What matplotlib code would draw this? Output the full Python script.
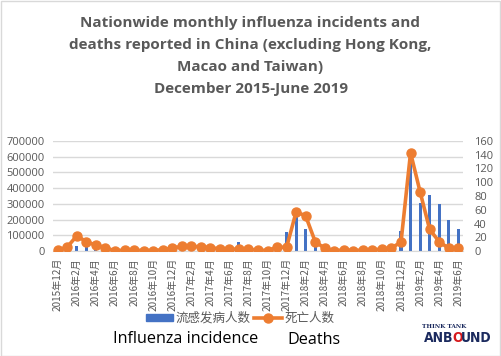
import matplotlib
matplotlib.use("Agg")
import matplotlib.pyplot as plt
from matplotlib.patches import Rectangle
from matplotlib.lines import Line2D
import numpy as np

plt.rcParams['font.family'] = ['Open Sans', 'Noto Sans CJK SC', 'DejaVu Sans']

months = []
for y, m in [(2015, 12)] + [(yy, mm) for yy in (2016, 2017, 2018) for mm in range(1, 13)] + [(2019, mm) for mm in range(1, 7)]:
    months.append(f"{y}年{m}月")

incidence = [15000, 28000, 30000, 36000, 20000, 10000, 5000, 5000, 4000, 4000,
             5000, 8000, 15000, 18000, 15000, 12000, 9000, 7000, 6000, 55000,
             36000, 10000, 8000, 20000, 120000, 270000, 138000, 35000, 15000, 6000,
             4000, 4000, 5000, 8000, 12000, 25000, 125000, 615000, 307000, 356000,
             299000, 197000, 140000]
deaths = [1, 6, 22, 13.5, 8.5, 5, 0, 1.5, 1.5, 0.5,
          0.5, 2, 4, 7, 7, 6, 5, 3, 3, 2.5,
          2.5, 1.5, 0.5, 5.5, 5.5, 57, 51, 13.5, 4, 0.5,
          1.5, 0.5, 1.5, 1.5, 3, 4.4, 13, 143, 86, 31.5,
          13.5, 4, 4]

left_ticks = list(range(0, 700001, 100000))
right_ticks = list(range(0, 161, 20))

BLUE = '#4472C4'
ORANGE = '#ED7D31'
GRAY = '#595959'

W, H = 501, 356
fig = plt.figure(figsize=(W / 100, H / 100), dpi=100)
ax = fig.add_axes([53 / W, 1 - 251 / H, 410 / W, 110 / H])
ax2 = ax.twinx()

x = np.arange(len(months))
bars = ax.bar(x, incidence, width=0.32, color=BLUE, zorder=2)
ax.set_ylim(0, 700000)
ax.set_xlim(-0.5, len(months) - 0.5)
ax.set_yticks(left_ticks)
ax.set_yticklabels([str(v) for v in left_ticks])
ax.grid(axis='y', color='#D9D9D9', linewidth=1.0, zorder=0)
ax.set_axisbelow(True)

line, = ax2.plot(x, deaths, color=ORANGE, linewidth=2.6, marker='o',
                 markersize=6.5, zorder=3)
ax2.set_ylim(0, 160)
ax2.set_yticks(right_ticks)
ax2.set_yticklabels([str(v) for v in right_ticks])

for a in (ax, ax2):
    for s in a.spines.values():
        s.set_visible(False)
    a.tick_params(axis='both', length=0, colors=GRAY, labelsize=8)
ax.spines['bottom'].set_visible(True)
ax.spines['bottom'].set_color('#D9D9D9')
ax.tick_params(axis='y', pad=6)
ax2.tick_params(axis='y', pad=8)

ax.set_xticks(x[::2])
ax.set_xticklabels(months[::2], rotation=90, fontsize=7.2, color=GRAY,
                   family=['Noto Sans CJK SC', 'DejaVu Sans'])
ax.tick_params(axis='x', pad=5)

fig.suptitle("Nationwide monthly influenza incidents and\n"
             "deaths reported in China (excluding Hong Kong,\n"
             "Macao and Taiwan)\n"
             "December 2015-June 2019",
             x=0.5, y=1 - 15.5 / H, fontsize=11.0, fontweight='bold', color=GRAY,
             linespacing=1.74, va='top')

handles = [Rectangle((0, 0), 1, 1, color=BLUE),
           Line2D([], [], color=ORANGE, linewidth=2.6, marker='o', markersize=6.5)]
fig.legend(handles, ['流感发病人数', '死亡人数'], loc='center', ncol=2,
           bbox_to_anchor=(240 / W, 1 - 318 / H), frameon=False,
           prop={'family': ['Noto Sans CJK SC'], 'size': 9},
           labelcolor=GRAY, handlelength=2.2, handleheight=0.5,
           columnspacing=0.3, handletextpad=0.2, borderpad=0)

fig.text(113 / W, 1 - 339 / H, "Influenza incidence", fontsize=11.6,
         color='black', va='center', ha='left')
fig.text(287 / W, 1 - 340 / H, "Deaths", fontsize=11.6, color='black',
         va='center', ha='left')

# logo
fig.text(444 / W, 1 - 327 / H, "THINK TANK", fontsize=4.2, color='#1B2A5E',
         family='DejaVu Serif', fontweight='bold', ha='center', va='center')
fig.canvas.draw()
r = fig.canvas.get_renderer()
xpos = 424
for part, col in [("ANB", '#1B2A5E'), ("O", '#D7191C'), ("UND", '#1B2A5E')]:
    t = fig.text(xpos / W, 1 - 338.5 / H, part, fontsize=10.0, color=col,
                 fontweight='heavy', family='DejaVu Sans', ha='left',
                 va='center', stretch='condensed')
    bb = t.get_window_extent(renderer=r)
    xpos += bb.width - 1.5

fig.patches.append(Rectangle((0.5 / W, 0.5 / H), 1 - 1.5 / W, 1 - 1.5 / H,
                             transform=fig.transFigure, fill=False,
                             edgecolor='#D9D9D9', linewidth=1.0))

fig.savefig("out.png", dpi=100)
